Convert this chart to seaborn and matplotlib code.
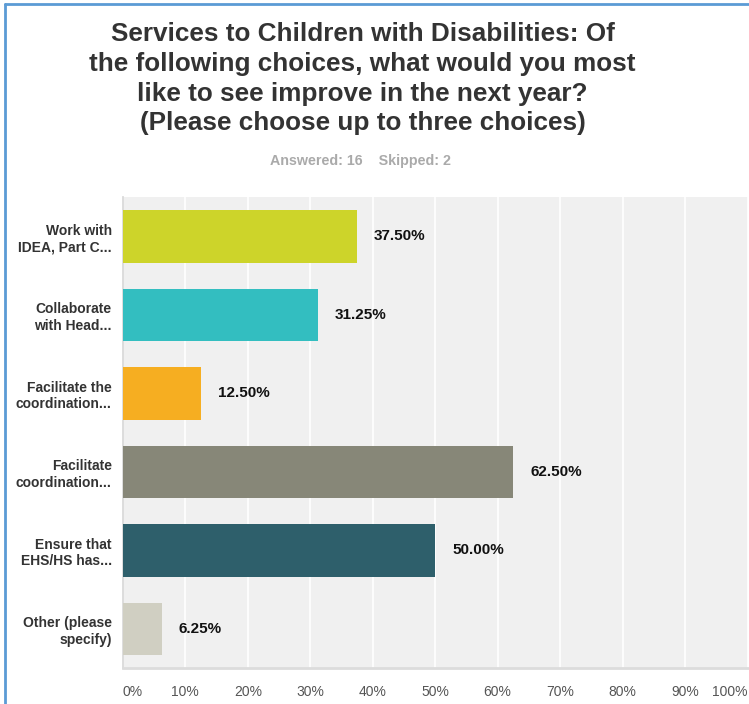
import matplotlib
matplotlib.use("Agg")
import matplotlib.pyplot as plt
import seaborn as sns
import pandas as pd
from matplotlib.lines import Line2D

categories = ["Work with\nIDEA, Part C...", "Collaborate\nwith Head...", "Facilitate the\ncoordination...",
              "Facilitate\ncoordination...", "Ensure that\nEHS/HS has...", "Other (please\nspecify)"]
values = [37.50, 31.25, 12.50, 62.50, 50.00, 6.25]
colors = ["#cdd42a", "#33bec0", "#f6ae21", "#878778", "#2e5f6b", "#d0cfc2"]
xticks = [0, 10, 20, 30, 40, 50, 60, 70, 80, 90, 100]
xticklabels = ["0%", "10%", "20%", "30%", "40%", "50%", "60%", "70%", "80%", "90%", "100%"]
title = ("Services to Children with Disabilities: Of\nthe following choices, what would you most\n"
         "like to see improve in the next year?\n(Please choose up to three choices)")
subtitle = "Answered: 16    Skipped: 2"

df = pd.DataFrame({"cat": categories, "val": values})

sns.set_theme(style="white")
plt.rcParams['font.family'] = ['Liberation Sans', 'DejaVu Sans']

fig = plt.figure(figsize=(7.49, 7.04), dpi=100)
ax = fig.add_axes([0.164, 0.051, 0.834, 0.669])
ax.set_facecolor("#f0f0f0")

sns.barplot(data=df, y="cat", x="val", hue="cat", palette=colors, legend=False,
            width=0.67, ax=ax, saturation=1, zorder=3, linewidth=0, edgecolor="none")

ax.set_xlim(0, 100)
ax.set_xticks(xticks)
ax.set_xticklabels(xticklabels, color="#555555", fontsize=10)
for lbl in ax.get_xticklabels():
    if lbl.get_text() == "100%":
        lbl.set_horizontalalignment("right")
    elif lbl.get_text() == "0%":
        lbl.set_horizontalalignment("left")
ax.tick_params(axis="x", length=0, pad=12)
ax.tick_params(axis="y", length=0, pad=8)
ax.set_yticks(range(len(categories)))
ax.set_yticklabels(categories, fontsize=10, fontweight="bold", color="#333333")
ax.grid(axis="x", color="white", linewidth=1.2, zorder=0)
ax.set_axisbelow(True)
ax.set_xlabel("")
ax.set_ylabel("")
for s in ["top", "right"]:
    ax.spines[s].set_visible(False)
ax.spines["left"].set_color("#d8d8d8")
ax.spines["bottom"].set_color("#dcdcdc")
ax.spines["bottom"].set_linewidth(2)

for i, v in enumerate(values):
    ax.text(v + 2.7, i, f"{v:.2f}%", va="center", ha="left", fontsize=11,
            fontweight="bold", color="#111111", zorder=4)

fig.text(0.484, 0.969, title, ha="center", va="top", fontsize=18.8, fontweight="bold",
         color="#333333", linespacing=1.31)
fig.text(0.481, 0.771, subtitle, ha="center", va="center", fontsize=10.3, fontweight="bold",
         color="#aaaaaa")

# blue frame
fig.add_artist(Line2D([0.007, 0.007], [0, 0.995], color="#5b9bd5", linewidth=2, transform=fig.transFigure))
fig.add_artist(Line2D([0.007, 1], [0.995, 0.995], color="#5b9bd5", linewidth=2, transform=fig.transFigure))

fig.savefig("out.png", dpi=100, facecolor="white")
